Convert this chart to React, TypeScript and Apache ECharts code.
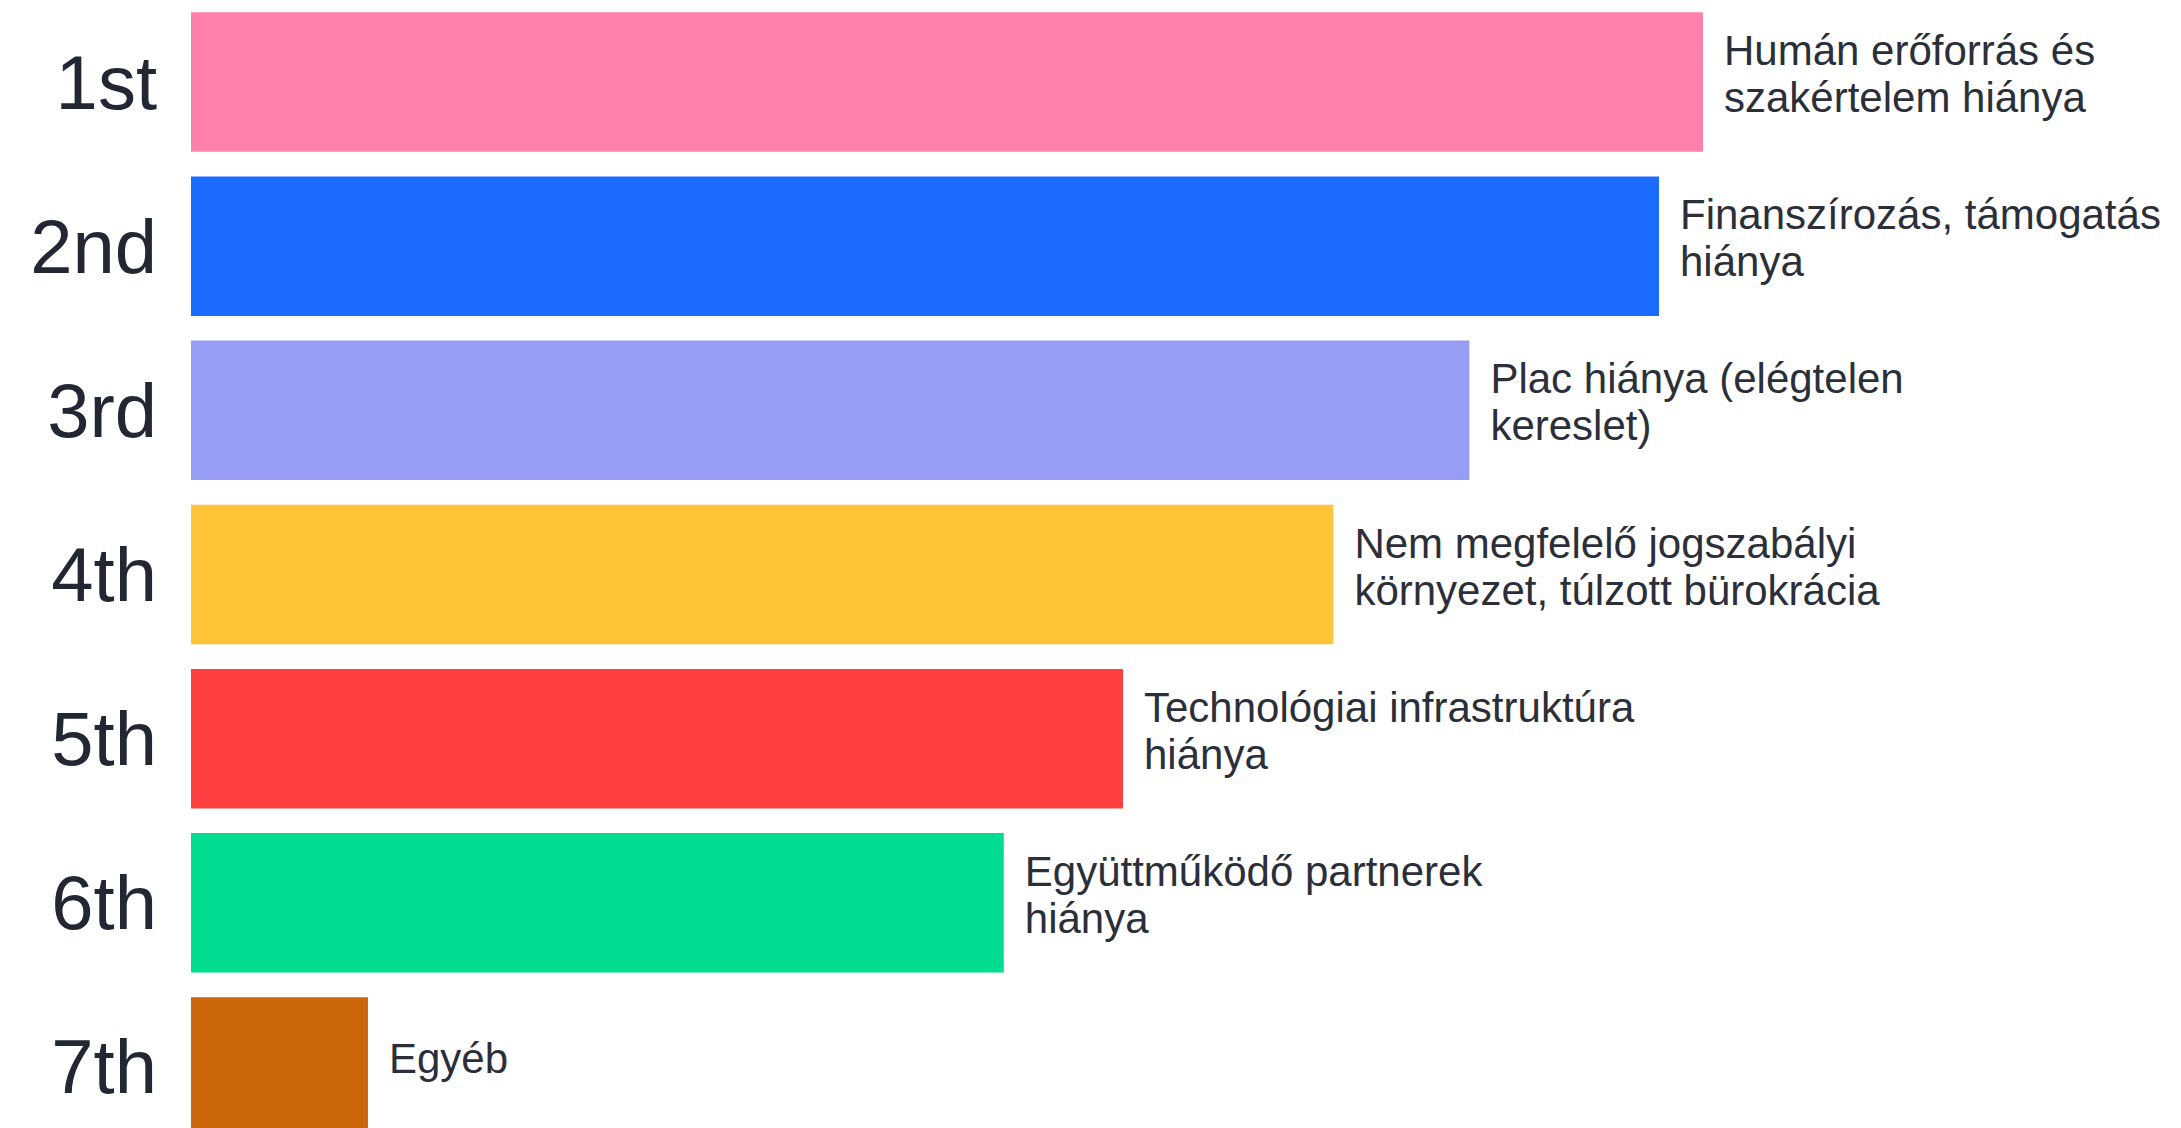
import React, { useEffect, useRef } from "react";
import * as echarts from "echarts";

const ranks = ["1st", "2nd", "3rd", "4th", "5th", "6th", "7th"];
const barriers = [
  "Humán erőforrás és\nszakértelem hiánya",
  "Finanszírozás, támogatás\nhiánya",
  "Plac hiánya (elégtelen\nkereslet)",
  "Nem megfelelő jogszabályi\nkörnyezet, túlzott bürokrácia",
  "Technológiai infrastruktúra\nhiánya",
  "Együttműködő partnerek\nhiánya",
  "Egyéb",
];
const scores = [94.5, 91.75, 79.9, 71.4, 58.25, 50.8, 11.06];
const colors = ["#FF80AA", "#1C6BFF", "#979CF5", "#FFC438", "#FF4040", "#00DC90", "#CC660A"];

export default function App() {
  const ref = useRef<HTMLDivElement>(null);
  useEffect(() => {
    if (!ref.current) return;
    const chart = echarts.init(ref.current, null, { renderer: "svg" });
    chart.setOption({
      animation: false,
      backgroundColor: "#ffffff",
      grid: {
        left: 191,
        top: 0,
        width: 1600,
        height: 1149,
        containLabel: false,
        outerBoundsMode: "none",
      },
      xAxis: {
        type: "value",
        min: 0,
        max: 100,
        show: false,
      },
      yAxis: {
        type: "category",
        data: ranks,
        inverse: true,
        axisLine: { show: false },
        axisTick: { show: false },
        splitLine: { show: false },
        axisLabel: {
          fontSize: 76,
          fontFamily: "Liberation Sans",
          color: "#232733",
          margin: 34,
        },
      },
      series: [
        {
          type: "bar",
          barCategoryGap: "15%",
          data: scores.map((v, i) => ({
            value: v,
            itemStyle: { color: colors[i] },
          })),
          label: {
            show: true,
            position: "right",
            distance: 21,
            offset: [0, -8],
            formatter: (p: any) => barriers[p.dataIndex],
            fontSize: 42,
            lineHeight: 47,
            fontFamily: "Liberation Sans",
            color: "#2b2f3a",
          },
        },
      ],
    });
    return () => chart.dispose();
  }, []);
  return (
    <div
      ref={ref}
      style={{ position: "fixed", left: 0, top: 0, width: 2181, height: 1128 }}
    />
  );
}
